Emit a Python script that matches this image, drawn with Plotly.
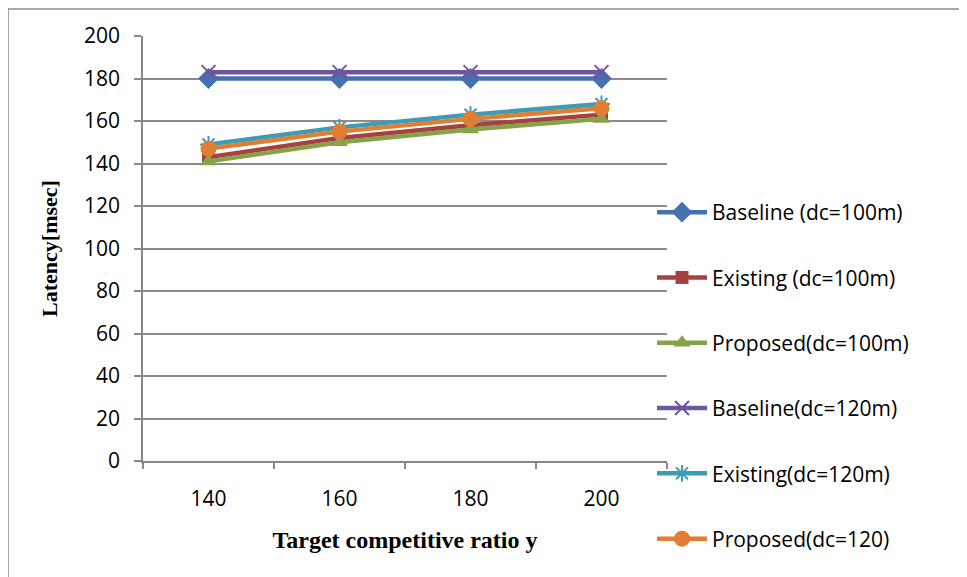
import plotly.graph_objects as go

categories = ["140", "160", "180", "200"]
baseline_100 = [180, 180, 180, 180]
existing_100 = [143, 152, 158, 163]
proposed_100 = [141, 150, 156, 161]
baseline_120 = [183, 183, 183, 183]
existing_120 = [149, 157, 163, 168]
proposed_120 = [147, 155, 161, 166]

series = [
    ("Baseline (dc=100m)", baseline_100, "#4471AF", "diamond", 16, 0),
    ("Existing (dc=100m)", existing_100, "#A5423F", "square", 13, 0),
    ("Proposed(dc=100m)", proposed_100, "#86A34A", "triangle-up", 15, 0),
    ("Baseline(dc=120m)", baseline_120, "#6D55A0", "x-thin-open", 14, 2),
    ("Existing(dc=120m)", existing_120, "#3D9BB5", "asterisk-open", 14, 2),
    ("Proposed(dc=120)", proposed_120, "#E07F33", "circle", 16, 0),
]

fig = go.Figure()
for i, (name, vals, color, sym, size, lw) in enumerate(series):
    marker = dict(symbol=sym, size=size, color=color)
    if lw:
        marker["line"] = dict(width=lw, color=color)
    fig.add_trace(go.Scatter(
        x=categories, y=vals, name=name, mode="lines+markers",
        line=dict(color=color, width=4.5), marker=marker,
        legendgroup=str(i),
    ))

# page body has an 8px margin; work in figure pixel coordinates
OFF = 8
L, R, T, B = 143 - OFF, 667 - OFF, 36 - OFF, 461 - OFF
W, H = 967 - OFF, 577 - OFF
pw, ph = R - L, B - T

def px(x):
    return (x - OFF - L) / pw

def py(y):
    return (B - (y - OFF)) / ph

fig.update_layout(
    width=W, height=H,
    margin=dict(l=L, r=W - R, t=T, b=H - B, pad=0),
    paper_bgcolor="white", plot_bgcolor="white",
    font=dict(family="Open Sans, Liberation Sans, sans-serif", size=21, color="black"),
    showlegend=True,
    legend=dict(
        x=px(652), y=py(192), xanchor="left", yanchor="top",
        font=dict(size=21), itemwidth=50, tracegroupgap=35,
        bgcolor="rgba(255,255,255,0)",
    ),
    xaxis=dict(
        type="category", range=[-0.5, 3.5], tickson="boundaries",
        ticks="outside", ticklen=6, tickcolor="#888888", tickwidth=1.5,
        showline=True, linecolor="#888888", linewidth=1.5,
        showgrid=False, zeroline=False, ticklabelstandoff=18,
        title=dict(text="<b>Target competitive ratio y</b>",
                   font=dict(family="Liberation Serif, Times New Roman, serif", size=24),
                   standoff=20),
        tickfont=dict(size=21),
    ),
    yaxis=dict(
        range=[0, 200], dtick=20, tick0=0,
        ticks="outside", ticklen=7, tickcolor="#888888", tickwidth=1.5,
        showline=True, linecolor="#888888", linewidth=1.5,
        showgrid=True, gridcolor="#8C8C8C", gridwidth=1.5, zeroline=False,
        ticklabelstandoff=10,
        title=dict(text="<b>Latency[msec]</b>",
                   font=dict(family="Liberation Serif, Times New Roman, serif", size=22),
                   standoff=20),
        tickfont=dict(size=21),
    ),
    shapes=[
        dict(type="line", xref="paper", yref="paper",
             x0=px(8), x1=px(967), y0=py(9), y1=py(9),
             line=dict(color="#8C8C8C", width=1.5)),
        dict(type="line", xref="paper", yref="paper",
             x0=px(8), x1=px(8), y0=py(9), y1=py(577),
             line=dict(color="#8C8C8C", width=1.5)),
    ],
)

fig.write_html("out.html")
